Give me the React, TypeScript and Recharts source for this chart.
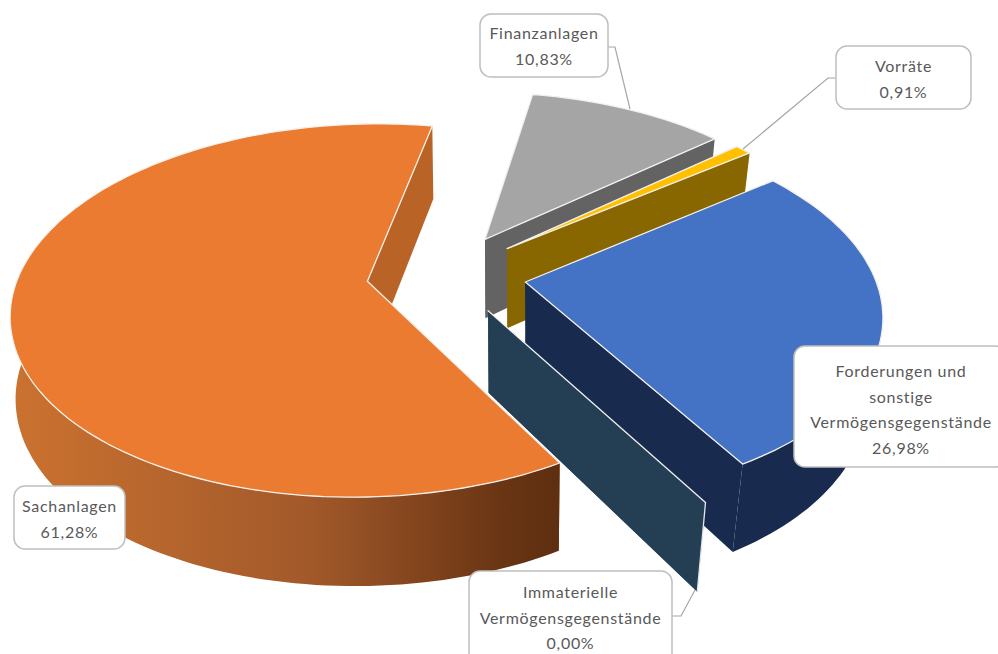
import React from "react";
import { PieChart, Pie } from "recharts";

const names = ["Finanzanlagen", "Vorräte", "Forderungen und sonstige Vermögensgegenstände", "Immaterielle Vermögensgegenstände", "Sachanlagen"];
const values = [10.83, 0.91, 26.98, 0.0, 61.28];
const data = names.map((name, i) => ({ name, value: values[i] }));

const STYLE: Record<string, { top: string; wall: string; side: string }> = {
  Finanzanlagen: { top: "#A5A5A5", wall: "#636363", side: "#636363" },
  "Vorräte": { top: "#FFC000", wall: "#886600", side: "#886600" },
  "Forderungen und sonstige Vermögensgegenstände": { top: "#4472C4", wall: "#182B4F", side: "#182B4F" },
  "Immaterielle Vermögensgegenstände": { top: "#264055", wall: "#243F54", side: "#243F54" },
  Sachanlagen: { top: "#EB7B30", wall: "url(#orangeRim)", side: "#B96326" },
};

const LABELS: Record<string, { x: number; y: number; w: number; h: number; lines: string[]; first: number; leader: number[][] }> = {
  Finanzanlagen: { x: 480, y: 14, w: 128, h: 63, lines: ["Finanzanlagen"], first: 34, leader: [[608, 47], [615, 47], [630, 109]] },
  "Vorräte": { x: 836, y: 46, w: 135, h: 63, lines: ["Vorräte"], first: 67, leader: [[836, 78], [828, 78], [743, 149]] },
  "Forderungen und sonstige Vermögensgegenstände": { x: 794, y: 346, w: 212, h: 121, lines: ["Forderungen und", "sonstige", "Vermögensgegenstände"], first: 372, leader: [] },
  "Immaterielle Vermögensgegenstände": { x: 469, y: 571, w: 203, h: 100, lines: ["Immaterielle", "Vermögensgegenstände"], first: 593, leader: [[672, 616], [681, 616], [695, 590]] },
  Sachanlagen: { x: 14, y: 486, w: 111, h: 63, lines: ["Sachanlagen"], first: 507, leader: [] },
};

const Q = 0.516;
const K = 0.156;
const EXPLODE = 0.229;
const DEPTH = 80.5;
const VANISH_X = 540;
const VANISH_D_RIGHT = 1800;
const VANISH_D_LEFT = 8000;

const rad = (d: number) => (d * Math.PI) / 180;

function Slice(props: any) {
  const { cx, cy, outerRadius: R, startAngle, endAngle, name, payload } = props;
  const key = name ?? payload?.name;
  const st = STYLE[key];
  const a1 = -startAngle;
  const a2 = -endAngle;
  const mid = (a1 + a2) / 2;
  const ex = EXPLODE * Math.cos(rad(mid));
  const ey = EXPLODE * Math.sin(rad(mid));
  const project = (u: number, v: number, bottom: boolean): number[] => {
    const s = 1 / (1 - K * v);
    let x = cx + R * u * s;
    let y = cy + R * Q * v * s;
    if (bottom) {
      const h = DEPTH * (1 + 0.1 * v);
      y += h;
      const d = x > VANISH_X ? VANISH_D_RIGHT : VANISH_D_LEFT;
      x = VANISH_X + (x - VANISH_X) * (1 - h / d);
    }
    return [x, y];
  };
  const rim = (a: number, bottom: boolean) => project(ex + Math.cos(rad(a)), ey + Math.sin(rad(a)), bottom);
  const tip = (bottom: boolean) => project(ex, ey, bottom);
  const n = Math.max(1, Math.ceil((a2 - a1) / 1.5));
  const arcAngles = Array.from({ length: n + 1 }, (_, i) => a1 + ((a2 - a1) * i) / n);
  const toPath = (pts: number[][], close = true) =>
    pts.map((p, i) => `${i ? "L" : "M"}${p[0].toFixed(1)},${p[1].toFixed(1)}`).join(" ") + (close ? " Z" : "");
  const radial = (a: number) => toPath([tip(false), rim(a, false), rim(a, true), tip(true)]);
  const topPts = arcAngles.map((a) => rim(a, false));
  const frontAngles = arcAngles.filter((a) => Math.sin(rad(a)) > -0.3);
  const frontTop = frontAngles.map((a) => rim(a, false));
  const frontBot = frontAngles.map((a) => rim(a, true)).reverse();
  const corner = [rim(a1, false), rim(a1, true)];
  const showCorner = key.startsWith("Forderungen") || key.startsWith("Immaterielle");
  return (
    <g>
      <defs>
        <linearGradient id="orangeRim" gradientUnits="userSpaceOnUse" x1="11" y1="0" x2="555" y2="0">
          <stop offset="0" stopColor="#CB7230" />
          <stop offset="0.55" stopColor="#A2592A" />
          <stop offset="0.9" stopColor="#6A3514" />
          <stop offset="1" stopColor="#5E2F10" />
        </linearGradient>
      </defs>
      <path d={radial(a1)} fill={st.side} />
      <path d={radial(a2)} fill={st.side} />
      {frontTop.length > 1 && <path d={toPath([...frontTop, ...frontBot])} fill={st.wall} />}
      {showCorner && <path d={toPath(corner, false)} stroke="#E4E8EE" strokeWidth={1.3} fill="none" />}
      <path d={toPath([tip(false), ...topPts])} fill={st.top} stroke="#F4F1EC" strokeWidth={1.3} strokeLinejoin="round" />
    </g>
  );
}

function Callout(props: any) {
  const key = props.name ?? props.payload?.name;
  const l = LABELS[key];
  const val = Number(props.value ?? props.payload?.value).toFixed(2).replace(".", ",") + "%";
  const lines = [...l.lines, val];
  return (
    <g>
      {l.leader.length > 0 && (
        <polyline points={l.leader.map((p) => p.join(",")).join(" ")} fill="none" stroke="#A6A6A6" strokeWidth={1.2} />
      )}
      <rect x={l.x} y={l.y} width={l.w} height={l.h} rx={11} ry={11} fill="#FFFFFF" stroke="#BFBFBF" strokeWidth={1.5} />
      <text textAnchor="middle" fontFamily="Lato, sans-serif" fontSize={16} fill="#595959" letterSpacing={0.7}>
        {lines.map((t, i) => (
          <tspan key={i} x={l.x + (key.startsWith("Forderungen") ? 107 : l.w / 2)} y={l.first + 5 + i * 25.5}>
            {t}
          </tspan>
        ))}
      </text>
    </g>
  );
}

export default function App() {
  return (
    <div style={{ position: "absolute", left: 0, top: 0, width: 998, height: 654, background: "#fff" }}>
      <PieChart width={998} height={654} margin={{ top: 0, right: 0, bottom: 0, left: 0 }}>
        <Pie
          data={data}
          dataKey="value"
          nameKey="name"
          cx={446.5}
          cy={274}
          innerRadius={0}
          outerRadius={348.5}
          startAngle={79.7}
          endAngle={-280.3}
          paddingAngle={0}
          stroke="none"
          isAnimationActive={false}
          shape={Slice}
          label={Callout}
          labelLine={false}
        />
      </PieChart>
    </div>
  );
}
